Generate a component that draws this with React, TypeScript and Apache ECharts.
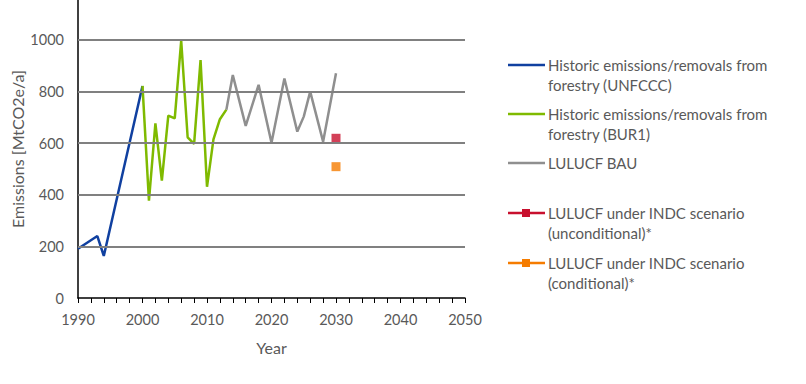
import React, { useEffect, useRef } from "react";
import * as echarts from "echarts";

const unfcccYears = [1990, 1993, 1994, 2000];
const unfcccValues = [191, 240, 163, 822];
const bur1Years = [2000, 2001, 2002, 2003, 2004, 2005, 2006, 2007, 2008, 2009, 2010, 2011, 2012, 2013];
const bur1Values = [822, 377, 677, 455, 707, 696, 997, 623, 597, 922, 431, 615, 693, 730];
const bauYears = [2013, 2014, 2016, 2018, 2020, 2022, 2024, 2025, 2026, 2028, 2030];
const bauValues = [730, 864, 667, 826, 602, 851, 645, 703, 800, 606, 871];
const uncondYears = [2030];
const uncondValues = [619];
const condYears = [2030];
const condValues = [509];
const gridValues = [200, 400, 600, 800, 1000];

const legendItems = [
  { lines: ["Historic emissions/removals from", "forestry (UNFCCC)"], color: "#1040a0", marker: false, y: 65 },
  { lines: ["Historic emissions/removals from", "forestry (BUR1)"], color: "#7fba00", marker: false, y: 114 },
  { lines: ["LULUCF BAU"], color: "#8f8f8f", marker: false, y: 163 },
  { lines: ["LULUCF under INDC scenario", "(unconditional)*"], color: "#c8102e", marker: true, y: 213 },
  { lines: ["LULUCF under INDC scenario", "(conditional)*"], color: "#f57c00", marker: true, y: 263 },
];

const FONT = "Lato, 'Open Sans', sans-serif";
const TEXT = "#595959";

function pairs(xs: number[], ys: number[]) {
  return xs.map((x, i) => [x, ys[i]]);
}

export default function App() {
  const ref = useRef<HTMLDivElement>(null);
  useEffect(() => {
    if (!ref.current) return;
    const chart = echarts.init(ref.current, undefined, { renderer: "svg" });
    const graphics: any[] = [];
    legendItems.forEach((it) => {
      const y = it.y;
      graphics.push({
        type: "line",
        shape: { x1: 508, y1: y, x2: 545, y2: y },
        style: { stroke: it.color, lineWidth: 2.5 },
      });
      if (it.marker) {
        graphics.push({
          type: "rect",
          shape: { x: 522, y: y - 4, width: 8, height: 8 },
          style: { fill: it.color },
        });
      }
      it.lines.forEach((t, k) => {
        graphics.push({
          type: "text",
          x: 548,
          y: y + k * 20,
          style: { text: t, fill: TEXT, font: `15px ${FONT}`, textVerticalAlign: "middle" },
        });
      });
    });
    chart.setOption({
      animation: false,
      grid: { left: 78, right: 341, top: 0, bottom: 86 },
      xAxis: {
        type: "value",
        min: 1990,
        max: 2050,
        interval: 2,
        name: "Year",
        nameLocation: "middle",
        nameGap: 41,
        nameTextStyle: { color: TEXT, fontSize: 16, fontFamily: FONT },
        axisLine: { lineStyle: { color: "#000", width: 1.5 } },
        axisTick: { show: true, length: 5, lineStyle: { color: "#000" } },
        axisLabel: {
          color: TEXT,
          fontSize: 14.5,
          fontFamily: FONT,
          margin: 14,
          formatter: (v: number) => (v % 10 === 0 ? String(v) : ""),
        },
        splitLine: { show: false },
      },
      yAxis: {
        type: "value",
        min: 0,
        max: 1155,
        interval: 200,
        name: "Emissions [MtCO2e/a]",
        nameLocation: "middle",
        nameGap: 53,
        nameTextStyle: { color: TEXT, fontSize: 16, fontFamily: FONT },
        axisLine: { show: true, lineStyle: { color: "#000", width: 1.5 } },
        axisTick: { show: false },
        axisLabel: {
          color: TEXT,
          fontSize: 14.5,
          fontFamily: FONT,
          margin: 14,
          showMaxLabel: false,
          formatter: (v: number) => (v % 200 === 0 ? String(v) : ""),
        },
        splitLine: { show: false },
      },
      series: [
        {
          type: "line",
          data: [],
          silent: true,
          markLine: {
            silent: true,
            symbol: "none",
            label: { show: false },
            lineStyle: { color: "#808080", width: 2, type: "solid" },
            data: gridValues.map((v) => ({ yAxis: v })),
          },
        },
        {
          type: "line",
          data: pairs(unfcccYears, unfcccValues),
          symbol: "none",
          lineStyle: { color: "#1040a0", width: 2.5 },
        },
        {
          type: "line",
          data: pairs(bur1Years, bur1Values),
          symbol: "none",
          lineStyle: { color: "#7fba00", width: 2.5 },
        },
        {
          type: "line",
          data: pairs(bauYears, bauValues),
          symbol: "none",
          lineStyle: { color: "#8f8f8f", width: 2.5 },
        },
        {
          type: "scatter",
          data: pairs(uncondYears, uncondValues),
          symbol: "rect",
          symbolSize: 9,
          itemStyle: { color: "#c8102e" },
        },
        {
          type: "scatter",
          data: pairs(condYears, condValues),
          symbol: "rect",
          symbolSize: 9,
          itemStyle: { color: "#f57c00" },
        },
      ],
      graphic: graphics,
    });
    return () => chart.dispose();
  }, []);
  return (
    <div
      ref={ref}
      style={{ position: "absolute", left: 0, top: 0, width: 806, height: 384 }}
    />
  );
}
